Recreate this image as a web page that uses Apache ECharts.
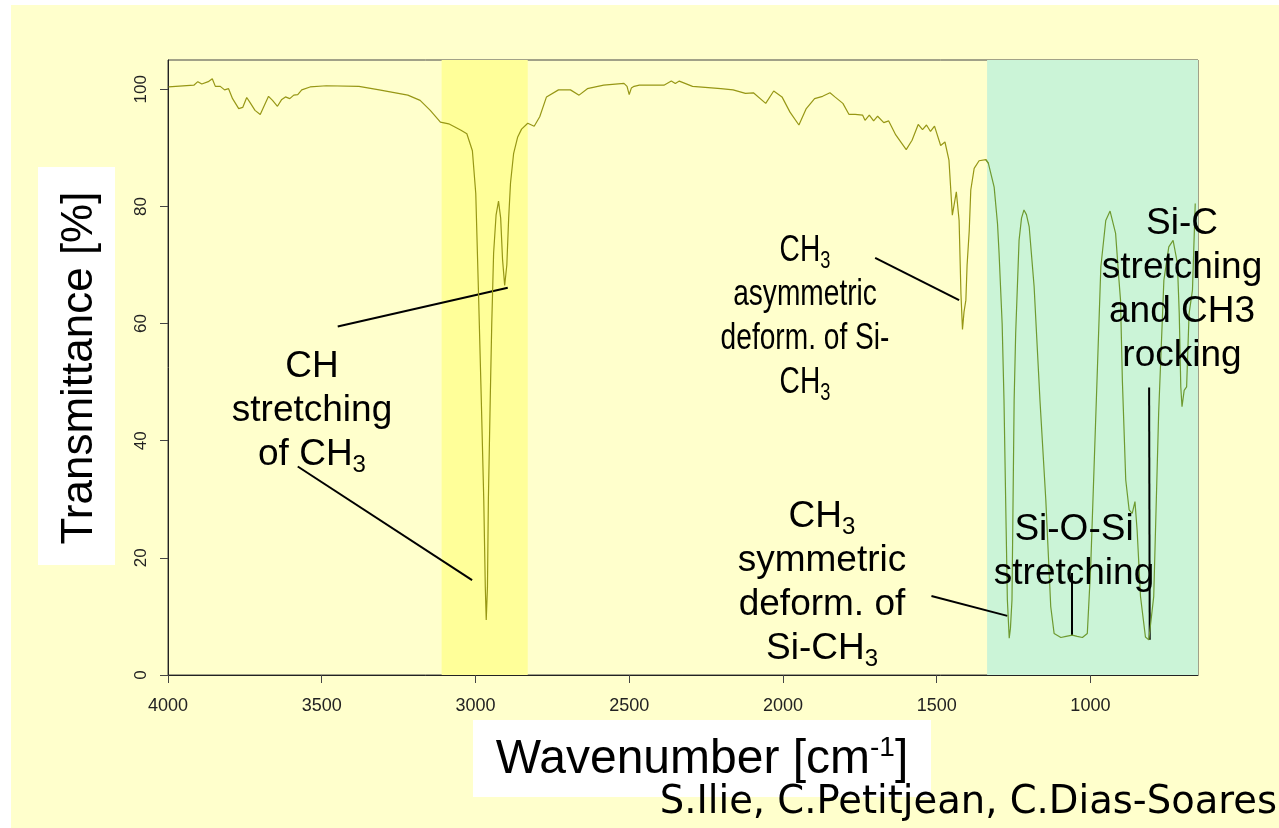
<!DOCTYPE html>
<html>
<head>
<meta charset="utf-8">
<script src="https://cdn.jsdelivr.net/npm/echarts@6/dist/echarts.min.js"></script>
<style>
  html, body { margin: 0; padding: 0; background: #ffffff; }
  #chart { width: 1279px; height: 828px; }
</style>
</head>
<body>
<div id="chart"></div>
<script>
// IR spectrum of PDMS: wavenumber (cm-1) and transmittance (%)
const wavenumber = [
  3998, 3916, 3903, 3890, 3869, 3856, 3846, 3830, 3816, 3803,
  3790, 3770, 3757, 3744, 3734, 3717, 3700, 3686, 3673, 3660,
  3644, 3631, 3618, 3604, 3591, 3578, 3565, 3538, 3485, 3379,
  3313, 3220, 3180, 3147, 3114, 3087, 3047, 3028, 3010, 2999,
  2990, 2981, 2973, 2968, 2965, 2961, 2958, 2952, 2947, 2941,
  2933, 2925, 2918, 2912, 2905, 2898, 2892, 2886, 2876, 2863,
  2850, 2830, 2809, 2791, 2769, 2730, 2691, 2663, 2636, 2583,
  2517, 2507, 2500, 2493, 2484, 2467, 2387, 2363, 2350, 2337,
  2294, 2202, 2162, 2122, 2096, 2056, 2030, 2003, 1977, 1948,
  1924, 1897, 1871, 1847, 1831, 1805, 1785, 1765, 1741, 1733,
  1719, 1705, 1692, 1672, 1656, 1633, 1599, 1580, 1560, 1546,
  1533, 1520, 1507, 1487, 1473, 1460, 1449, 1436, 1427, 1421,
  1416, 1411, 1405, 1401, 1394, 1389, 1378, 1362, 1340, 1332,
  1313, 1302, 1297, 1287, 1281, 1274, 1270, 1264, 1260, 1255,
  1248, 1243, 1232, 1224, 1216, 1208, 1199, 1183, 1164, 1145,
  1129, 1118, 1096, 1079, 1059, 1043, 1026, 1010, 999, 988,
  977, 966, 950, 936, 918, 907, 902, 896, 885, 874,
  864, 855, 848, 837, 821, 810, 804, 794, 778, 761,
  745, 731, 717, 711, 706, 702, 695, 687, 679, 668,
  659
];
const transmittance = [
  100.4, 100.7, 101.3, 100.9, 101.3, 101.8, 100.5, 100.5, 99.9, 100.1,
  98.4, 96.7, 96.9, 98.6, 97.8, 96.4, 95.7, 97.3, 98.8, 98.1,
  97.1, 98.2, 98.7, 98.4, 99.0, 99.1, 99.9, 100.4, 100.6, 100.5,
  99.9, 99.0, 98.1, 96.4, 94.4, 94.1, 93.0, 92.4, 89.5, 82.2,
  65.0, 46.9, 29.9, 15.0, 9.4, 15.0, 29.9, 46.9, 60.0, 72.0,
  78.5, 80.9, 78.0, 71.0, 66.5, 70.0, 78.0, 84.0, 89.0, 91.8,
  93.2, 94.2, 93.7, 95.3, 98.7, 99.9, 99.9, 99.0, 100.1, 100.7,
  101.0, 100.5, 99.1, 100.2, 100.5, 100.7, 100.7, 101.4, 101.0, 101.4,
  100.5, 100.1, 99.9, 99.3, 99.4, 97.6, 99.7, 98.7, 96.1, 93.9,
  96.7, 98.4, 98.8, 99.4, 98.7, 97.6, 95.7, 95.7, 95.6, 94.7,
  95.6, 94.6, 95.4, 94.3, 94.6, 92.2, 89.7, 91.3, 94.0, 93.1,
  93.9, 92.8, 93.7, 90.4, 91.0, 87.9, 78.5, 82.5, 77.6, 65.1,
  59.0, 62.0, 64.0, 70.0, 75.9, 82.8, 86.5, 87.8, 88.0, 87.4,
  83.3, 77.0, 72.0, 60.0, 46.9, 25.0, 12.8, 6.3, 8.0, 12.8,
  46.9, 58.3, 74.2, 78.0, 79.4, 78.6, 76.5, 66.3, 46.9, 29.9,
  11.7, 7.1, 6.4, 6.6, 6.8, 6.6, 6.4, 7.1, 18.5, 35.5,
  52.6, 69.7, 77.6, 79.2, 75.4, 67.4, 64.0, 50.3, 33.3, 28.2,
  27.6, 29.6, 24.7, 13.4, 6.5, 6.0, 6.2, 13.4, 44.7, 67.4,
  73.1, 74.2, 70.3, 61.7, 49.2, 45.8, 48.6, 49.2, 61.7, 65.7,
  80.5
];

// Axis ticks and labels
const xTicks = [4000, 3500, 3000, 2500, 2000, 1500, 1000];
const yTicks = [0, 20, 40, 60, 80, 100];

// Highlighted absorption regions (wavenumber ranges)
const cHRegion = [3110, 2830];
const siORegion = [1336, 650];

// Leader lines from the band labels to the peaks: [[wn, T], [wn, T]]
const leaderLines = [
  [[3448, 59.5], [2895, 66.1]],
  [[3578, 35.6], [3011, 16.2]],
  [[1700, 71.2], [1427, 64.0]],
  [[1517, 13.5], [1270, 10.1]],
  [[1059, 17.4], [1059, 6.8]],
  [[809, 49.1], [807, 6.0]]
];

const points = wavenumber.map((w, i) => [w, transmittance[i]]);
// The trace is tinted differently inside the Si-O-Si region; split it at the region edge
const split = wavenumber.findIndex(w => w < siORegion[0]);
const outerTrace = points.slice(0, split + 1);
const innerTrace = points.slice(split - 1);

const FONT = '"Liberation Sans", Arial, Helvetica, sans-serif';
const richSub = {
  s: { fontSize: 24, lineHeight: 16, verticalAlign: 'bottom', fontFamily: FONT, fill: '#000' }
};

function note(cx, cy, text, sx) {
  return {
    type: 'text', x: cx, y: cy, z: 100, silent: true, scaleX: sx || 1,
    style: {
      text: text, x: 0, y: 0, align: 'center', verticalAlign: 'middle',
      fontSize: 37, lineHeight: 44, fontFamily: FONT, fill: '#000',
      rich: richSub
    }
  };
}

const chart = echarts.init(document.getElementById('chart'), null, { renderer: 'canvas' });

chart.setOption({
  backgroundColor: '#ffffff',
  animation: false,
  grid: {
    left: 168, right: 81, top: 60, bottom: 153,
    show: true, borderColor: '#444', borderWidth: 1, backgroundColor: 'transparent'
  },
  xAxis: {
    type: 'value', inverse: true, min: 650, max: 4000,
    axisLine: { show: true, onZero: false, lineStyle: { color: '#222', width: 1 } },
    axisTick: { show: true, customValues: xTicks, length: 8, lineStyle: { color: '#444' } },
    axisLabel: { show: true, customValues: xTicks, formatter: v => String(v), margin: 22, fontSize: 18, color: '#222', fontFamily: FONT },
    splitLine: { show: false }
  },
  yAxis: {
    type: 'value', min: 0, max: 105,
    axisLine: { show: true, onZero: false, lineStyle: { color: '#222', width: 1 } },
    axisTick: { show: true, customValues: yTicks, length: 8, lineStyle: { color: '#444' } },
    axisLabel: { show: true, customValues: yTicks, formatter: v => String(v), rotate: 90, margin: 18, fontSize: 17, color: '#222', fontFamily: FONT },
    splitLine: { show: false }
  },
  series: [
    {
      type: 'line',
      data: outerTrace,
      showSymbol: false,
      smooth: false,
      lineStyle: { width: 1.2, color: '#979715' },
      z: 5,
      markArea: {
        silent: true,
        data: [
          [{ xAxis: cHRegion[0], itemStyle: { color: '#FFFF99' } }, { xAxis: cHRegion[1] }],
          [{ xAxis: siORegion[0], itemStyle: { color: '#CBF4D7' } }, { xAxis: siORegion[1] }]
        ]
      },
      markLine: {
        silent: true,
        symbol: ['none', 'none'],
        label: { show: false },
        lineStyle: { color: '#000', width: 2, type: 'solid' },
        data: leaderLines.map(l => [{ coord: l[0] }, { coord: l[1] }])
      }
    },
    {
      type: 'line',
      data: innerTrace,
      showSymbol: false,
      smooth: false,
      lineStyle: { width: 1.2, color: '#6E9A30' },
      z: 5
    }
  ],
  graphic: [
    { type: 'rect', z: -100, silent: true, shape: { x: 11, y: 5, width: 1268, height: 823 }, style: { fill: '#FFFFCC' } },
    { type: 'rect', z: 90, silent: true, shape: { x: 38, y: 167, width: 77, height: 398 }, style: { fill: '#ffffff' } },
    { type: 'rect', z: 90, silent: true, shape: { x: 473, y: 720, width: 458, height: 77 }, style: { fill: '#ffffff' } },
    {
      type: 'text', x: 80, y: 368, rotation: Math.PI / 2, z: 100, silent: true,
      style: { text: 'Transmittance [%]', x: 0, y: 0, align: 'center', verticalAlign: 'middle', fontSize: 44, fontFamily: FONT, fill: '#000' }
    },
    {
      type: 'text', x: 702, y: 760, z: 100, silent: true,
      style: {
        text: '{n|Wavenumber [cm}{p|-1}{n|]}', x: 0, y: 0, align: 'center', verticalAlign: 'middle',
        fontFamily: FONT, fill: '#000',
        rich: {
          n: { fontSize: 48, lineHeight: 52, fontFamily: FONT, fill: '#000' },
          p: { fontSize: 28, lineHeight: 32, verticalAlign: 'top', fontFamily: FONT, fill: '#000' }
        }
      }
    },
    {
      type: 'text', x: 1277, y: 803, z: 100, silent: true,
      style: { text: 'S.Ilie, C.Petitjean, C.Dias-Soares', x: 0, y: 0, align: 'right', verticalAlign: 'middle', fontSize: 38.5, fontFamily: '"DejaVu Sans", Verdana, sans-serif', fill: '#000' }
    },
    note(312, 411, 'CH\nstretching\nof CH{s|3}'),
    note(805, 317, 'CH{s|3}\nasymmetric\ndeform. of Si-\nCH{s|3}', 0.76),
    note(822, 583, 'CH{s|3}\nsymmetric\ndeform. of\nSi-CH{s|3}'),
    note(1074, 552, 'Si-O-Si\nstretching'),
    note(1182, 290, 'Si-C\nstretching\nand CH3\nrocking')
  ]
});
</script>
</body>
</html>
